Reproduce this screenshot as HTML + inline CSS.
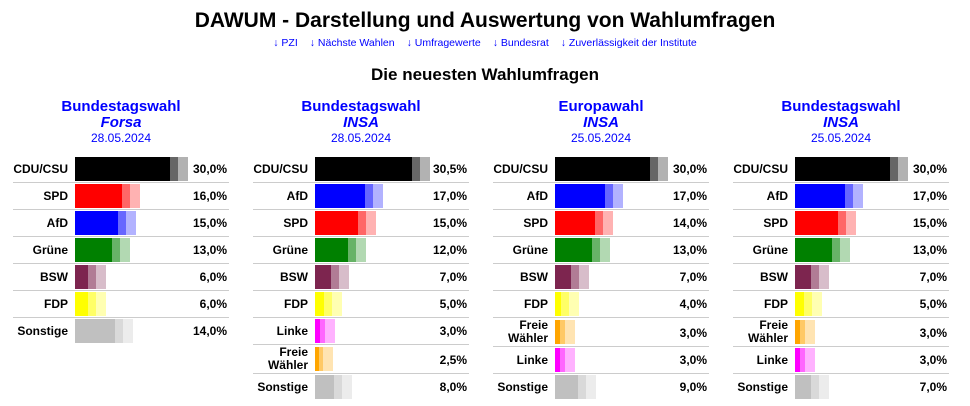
<!DOCTYPE html>
<html><head><meta charset="utf-8"><style>
body{margin:0;width:970px;height:406px;background:#fff;font-family:"Liberation Sans",Arial,sans-serif;position:relative;overflow:hidden}
h1{position:absolute;top:9px;left:0;width:970px;margin:0;text-align:center;font-size:21px;font-weight:bold;color:#000}
.links{position:absolute;top:37px;left:0;width:970px;text-align:center;font-size:10.5px;color:#00f}
.links span{margin:0 6px}
h2{position:absolute;top:65px;left:0;width:970px;margin:0;text-align:center;font-size:17px;font-weight:bold}
.col{position:absolute;top:98px;width:216px}
.hd{text-align:center;color:#00f;height:58px}
.t{font-size:15px;font-weight:bold;line-height:17px}
.p{font-size:15px;font-weight:bold;font-style:italic;line-height:16px}
.d{font-size:12px;line-height:15px}
.r{position:relative;height:26px;border-bottom:1px solid #ccc}
.r:last-child{border-bottom:none}
.r.f{height:28px}
.l{position:absolute;left:0;width:55px;text-align:right;top:6px;font-size:12px;font-weight:bold;line-height:14px}
.f .l{top:1px;line-height:13px}
.b{position:absolute;left:62px;top:1px;height:24px}
.f .b{top:2px}
.i{position:absolute;right:0;top:0;width:8px;height:100%;background:rgba(255,255,255,.4)}
.o{position:absolute;left:100%;top:0;width:10px;height:100%;background:inherit;opacity:.3}
.v{position:absolute;right:2px;top:6px;font-size:12px;font-weight:bold}
.f .v{top:8px}
</style></head><body>
<h1>DAWUM - Darstellung und Auswertung von Wahlumfragen</h1>
<div class="links"><span>↓ PZI</span><span>↓ Nächste Wahlen</span><span>↓ Umfragewerte</span><span>↓ Bundesrat</span><span>↓ Zuverlässigkeit der Institute</span></div>
<h2>Die neuesten Wahlumfragen</h2>

<div class="col" style="left:13px">
<div class="hd"><div class="t">Bundestagswahl</div><div class="p">Forsa</div><div class="d">28.05.2024</div></div>
<div class="r"><div class="l">CDU/CSU</div><div class="b" style="width:103px;background:#000"><div class="i"></div><div class="o"></div></div><div class="v">30,0%</div></div>
<div class="r"><div class="l">SPD</div><div class="b" style="width:55px;background:#f00"><div class="i"></div><div class="o"></div></div><div class="v">16,0%</div></div>
<div class="r"><div class="l">AfD</div><div class="b" style="width:51px;background:#00f"><div class="i"></div><div class="o"></div></div><div class="v">15,0%</div></div>
<div class="r"><div class="l">Grüne</div><div class="b" style="width:45px;background:#008000"><div class="i"></div><div class="o"></div></div><div class="v">13,0%</div></div>
<div class="r"><div class="l">BSW</div><div class="b" style="width:21px;background:#7d254f"><div class="i"></div><div class="o"></div></div><div class="v">6,0%</div></div>
<div class="r"><div class="l">FDP</div><div class="b" style="width:21px;background:#ff0"><div class="i"></div><div class="o"></div></div><div class="v">6,0%</div></div>
<div class="r"><div class="l">Sonstige</div><div class="b" style="width:48px;background:#c0c0c0"><div class="i"></div><div class="o"></div></div><div class="v">14,0%</div></div>
</div>

<div class="col" style="left:253px">
<div class="hd"><div class="t">Bundestagswahl</div><div class="p">INSA</div><div class="d">28.05.2024</div></div>
<div class="r"><div class="l">CDU/CSU</div><div class="b" style="width:105px;background:#000"><div class="i"></div><div class="o"></div></div><div class="v">30,5%</div></div>
<div class="r"><div class="l">AfD</div><div class="b" style="width:58px;background:#00f"><div class="i"></div><div class="o"></div></div><div class="v">17,0%</div></div>
<div class="r"><div class="l">SPD</div><div class="b" style="width:51px;background:#f00"><div class="i"></div><div class="o"></div></div><div class="v">15,0%</div></div>
<div class="r"><div class="l">Grüne</div><div class="b" style="width:41px;background:#008000"><div class="i"></div><div class="o"></div></div><div class="v">12,0%</div></div>
<div class="r"><div class="l">BSW</div><div class="b" style="width:24px;background:#7d254f"><div class="i"></div><div class="o"></div></div><div class="v">7,0%</div></div>
<div class="r"><div class="l">FDP</div><div class="b" style="width:17px;background:#ff0"><div class="i"></div><div class="o"></div></div><div class="v">5,0%</div></div>
<div class="r"><div class="l">Linke</div><div class="b" style="width:10px;background:#f0f"><div class="i" style="width:5px"></div><div class="o"></div></div><div class="v">3,0%</div></div>
<div class="r f"><div class="l">Freie<br>Wähler</div><div class="b" style="width:8px;background:#ffa500"><div class="i" style="width:4px"></div><div class="o"></div></div><div class="v">2,5%</div></div>
<div class="r"><div class="l">Sonstige</div><div class="b" style="width:27px;background:#c0c0c0"><div class="i"></div><div class="o"></div></div><div class="v">8,0%</div></div>
</div>

<div class="col" style="left:493px">
<div class="hd"><div class="t">Europawahl</div><div class="p">INSA</div><div class="d">25.05.2024</div></div>
<div class="r"><div class="l">CDU/CSU</div><div class="b" style="width:103px;background:#000"><div class="i"></div><div class="o"></div></div><div class="v">30,0%</div></div>
<div class="r"><div class="l">AfD</div><div class="b" style="width:58px;background:#00f"><div class="i"></div><div class="o"></div></div><div class="v">17,0%</div></div>
<div class="r"><div class="l">SPD</div><div class="b" style="width:48px;background:#f00"><div class="i"></div><div class="o"></div></div><div class="v">14,0%</div></div>
<div class="r"><div class="l">Grüne</div><div class="b" style="width:45px;background:#008000"><div class="i"></div><div class="o"></div></div><div class="v">13,0%</div></div>
<div class="r"><div class="l">BSW</div><div class="b" style="width:24px;background:#7d254f"><div class="i"></div><div class="o"></div></div><div class="v">7,0%</div></div>
<div class="r"><div class="l">FDP</div><div class="b" style="width:14px;background:#ff0"><div class="i"></div><div class="o"></div></div><div class="v">4,0%</div></div>
<div class="r f"><div class="l">Freie<br>Wähler</div><div class="b" style="width:10px;background:#ffa500"><div class="i" style="width:5px"></div><div class="o"></div></div><div class="v">3,0%</div></div>
<div class="r"><div class="l">Linke</div><div class="b" style="width:10px;background:#f0f"><div class="i" style="width:5px"></div><div class="o"></div></div><div class="v">3,0%</div></div>
<div class="r"><div class="l">Sonstige</div><div class="b" style="width:31px;background:#c0c0c0"><div class="i"></div><div class="o"></div></div><div class="v">9,0%</div></div>
</div>

<div class="col" style="left:733px">
<div class="hd"><div class="t">Bundestagswahl</div><div class="p">INSA</div><div class="d">25.05.2024</div></div>
<div class="r"><div class="l">CDU/CSU</div><div class="b" style="width:103px;background:#000"><div class="i"></div><div class="o"></div></div><div class="v">30,0%</div></div>
<div class="r"><div class="l">AfD</div><div class="b" style="width:58px;background:#00f"><div class="i"></div><div class="o"></div></div><div class="v">17,0%</div></div>
<div class="r"><div class="l">SPD</div><div class="b" style="width:51px;background:#f00"><div class="i"></div><div class="o"></div></div><div class="v">15,0%</div></div>
<div class="r"><div class="l">Grüne</div><div class="b" style="width:45px;background:#008000"><div class="i"></div><div class="o"></div></div><div class="v">13,0%</div></div>
<div class="r"><div class="l">BSW</div><div class="b" style="width:24px;background:#7d254f"><div class="i"></div><div class="o"></div></div><div class="v">7,0%</div></div>
<div class="r"><div class="l">FDP</div><div class="b" style="width:17px;background:#ff0"><div class="i"></div><div class="o"></div></div><div class="v">5,0%</div></div>
<div class="r f"><div class="l">Freie<br>Wähler</div><div class="b" style="width:10px;background:#ffa500"><div class="i" style="width:5px"></div><div class="o"></div></div><div class="v">3,0%</div></div>
<div class="r"><div class="l">Linke</div><div class="b" style="width:10px;background:#f0f"><div class="i" style="width:5px"></div><div class="o"></div></div><div class="v">3,0%</div></div>
<div class="r"><div class="l">Sonstige</div><div class="b" style="width:24px;background:#c0c0c0"><div class="i"></div><div class="o"></div></div><div class="v">7,0%</div></div>
</div>
</body></html>
